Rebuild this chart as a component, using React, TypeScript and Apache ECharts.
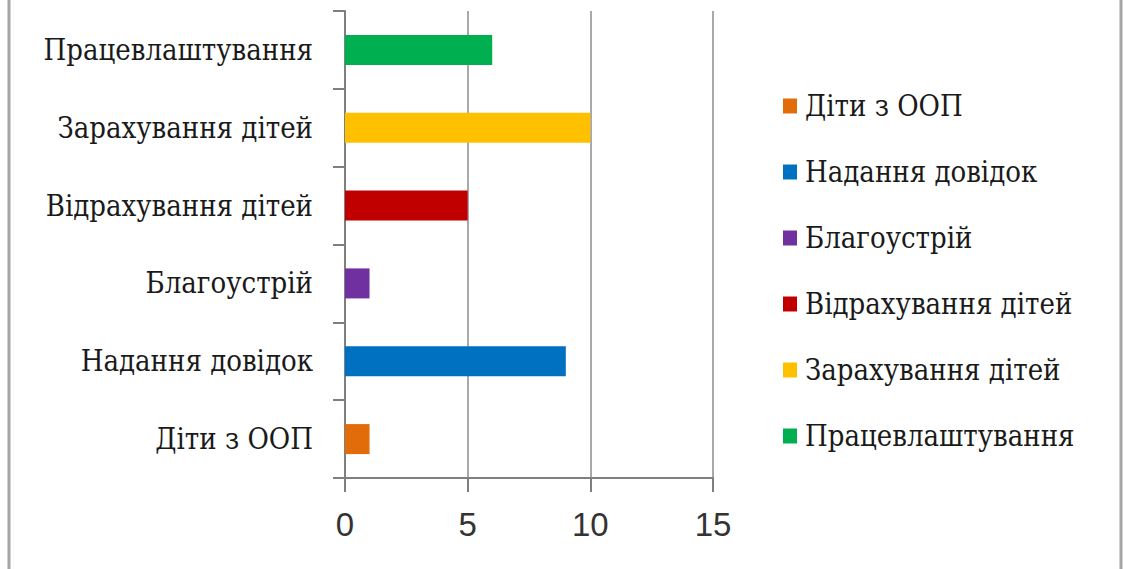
import React, { useEffect, useRef } from "react";
import * as echarts from "echarts";

const categories = [
  "Діти з ООП",
  "Надання довідок",
  "Благоустрій",
  "Відрахування дітей",
  "Зарахування дітей",
  "Працевлаштування",
];
const values = [1, 9, 1, 5, 10, 6];
const colors = ["#E36C0A", "#0070C0", "#7030A0", "#C00000", "#FFC000", "#00B050"];
const xTicks = [0, 5, 10, 15];

const SERIF = "'DejaVu Serif Condensed', 'DejaVu Serif', serif";
const SANS = "'Liberation Sans Narrow', 'Liberation Sans', sans-serif";

export default function App() {
  const ref = useRef<HTMLDivElement>(null);
  useEffect(() => {
    document.body.style.margin = "0";
    const chart = echarts.init(ref.current!, null, { renderer: "svg" });
    const series = categories.map((name, i) => ({
      name,
      type: "bar",
      stack: "all",
      barWidth: 30,
      itemStyle: { color: colors[i] },
      data: categories.map((_, j) => (j === i ? values[i] : null)),
    }));
    chart.setOption({
      animation: false,
      backgroundColor: "#ffffff",
      grid: { left: 345, right: 410, top: 11, bottom: 91, containLabel: false },
      xAxis: {
        type: "value",
        min: xTicks[0],
        max: xTicks[xTicks.length - 1],
        interval: 5,
        axisLine: { show: true, lineStyle: { color: "#7f7f7f", width: 2 } },
        axisTick: { show: true, length: 14, lineStyle: { color: "#7f7f7f", width: 2 } },
        splitLine: { show: true, lineStyle: { color: "#8c8c8c", width: 1.5 } },
        axisLabel: {
          fontFamily: SANS,
          fontSize: 33,
          color: "#333333",
          margin: 30,
        },
      },
      yAxis: {
        type: "category",
        data: categories,
        axisLine: { show: true, lineStyle: { color: "#7f7f7f", width: 2 } },
        axisTick: { show: true, length: 12, alignWithLabel: false, lineStyle: { color: "#7f7f7f", width: 2 } },
        splitLine: { show: false },
        axisLabel: {
          fontFamily: SERIF,
          fontSize: 29,
          color: "#1a1a1a",
          margin: 32,
        },
      },
      legend: {
        orient: "vertical",
        left: 778,
        top: 86,
        icon: "rect",
        itemWidth: 14,
        itemHeight: 15,
        itemGap: 36,
        data: categories,
        textStyle: {
          fontFamily: SERIF,
          fontSize: 29,
          color: "#1a1a1a",
          lineHeight: 30,
          padding: [0, 0, 0, 3],
        },
      },
      graphic: [
        { type: "line", shape: { x1: 9, y1: 0, x2: 9, y2: 569 }, style: { stroke: "#a6a6a6", lineWidth: 3 } },
        { type: "line", shape: { x1: 1121, y1: 0, x2: 1121, y2: 569 }, style: { stroke: "#a6a6a6", lineWidth: 3 } },
      ],
      series,
    });
    return () => chart.dispose();
  }, []);
  return (
    <div
      ref={ref}
      style={{ position: "fixed", left: 0, top: 0, width: 1123, height: 569 }}
    />
  );
}
